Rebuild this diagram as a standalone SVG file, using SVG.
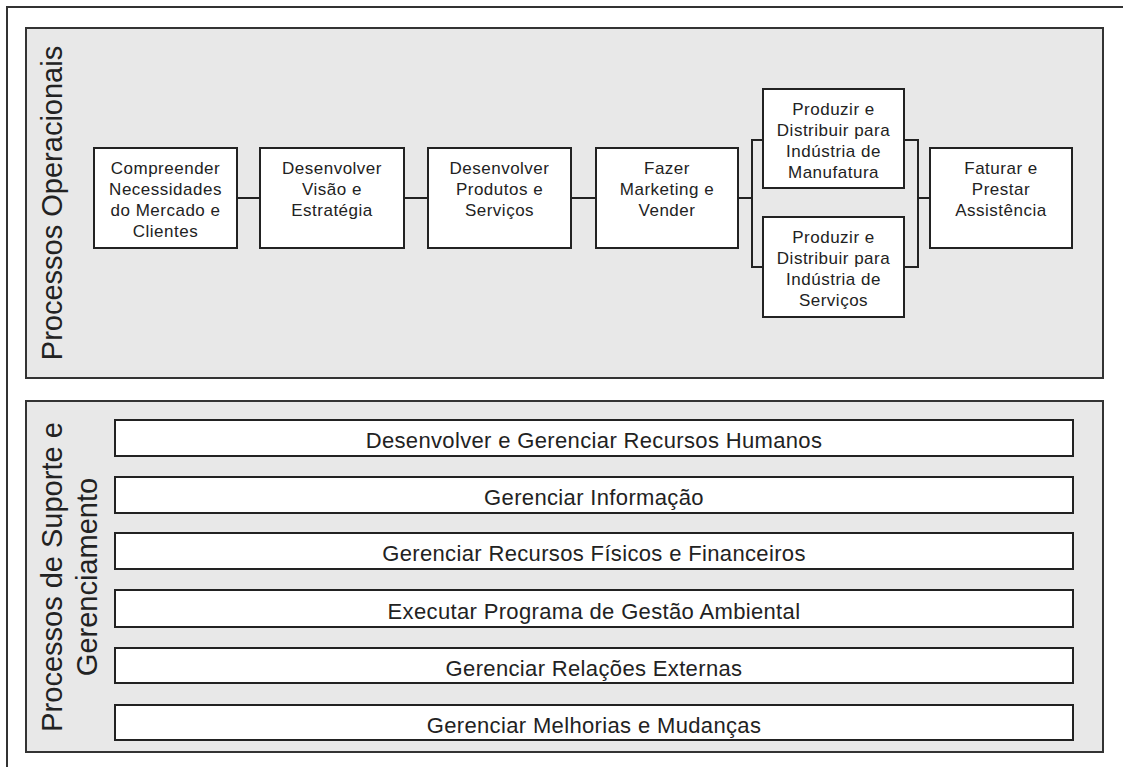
<svg xmlns="http://www.w3.org/2000/svg" width="1123" height="767" viewBox="0 0 1123 767">
<style>
.bg{fill:#ffffff}
.frame{fill:none;stroke:#333;stroke-width:2}
.panel{fill:#e8e8e8;stroke:#333;stroke-width:2}
.box{fill:#ffffff;stroke:#222;stroke-width:2}
.conn{fill:none;stroke:#222;stroke-width:2}
.t{font-family:"Liberation Sans",Arial,sans-serif;fill:#222;text-anchor:middle}
.bt{font-size:17px;letter-spacing:0.5px}
.bar{font-size:22px;letter-spacing:0.35px}
.lab{font-size:29px}
</style>
<rect class="bg" x="0" y="0" width="1123" height="767"/>
<path class="frame" d="M7,767 V7 H1123"/>

<g id="panel-operacionais">
<rect class="panel" x="26" y="28" width="1077" height="350"/>
<text class="t lab" transform="translate(62,203) rotate(-90)">Processos Operacionais</text>
</g>

<g id="panel-suporte">
<rect class="panel" x="26" y="401" width="1077" height="351"/>
<text class="t lab" transform="translate(62,577) rotate(-90)">Processos de Suporte e</text>
<text class="t lab" transform="translate(97,577) rotate(-90)">Gerenciamento</text>
</g>

<g id="connectors">
<path class="conn" d="M237,198 H260"/>
<path class="conn" d="M404,198 H428"/>
<path class="conn" d="M571,198 H596"/>
<path class="conn" d="M738,198 H752"/>
<path class="conn" d="M763,140 H752 V267 H763"/>
<path class="conn" d="M904,140 H918 V267 H904"/>
<path class="conn" d="M918,198 H930"/>
</g>

<g id="n-compreender">
<rect class="box" x="94" y="148" width="143" height="100"/>
<text class="t bt" x="165.5" y="174">Compreender</text>
<text class="t bt" x="165.5" y="195">Necessidades</text>
<text class="t bt" x="165.5" y="216">do Mercado e</text>
<text class="t bt" x="165.5" y="237">Clientes</text>
</g>
<g id="n-visao">
<rect class="box" x="260" y="148" width="144" height="100"/>
<text class="t bt" x="332" y="174">Desenvolver</text>
<text class="t bt" x="332" y="195">Visão e</text>
<text class="t bt" x="332" y="216">Estratégia</text>
</g>
<g id="n-produtos">
<rect class="box" x="428" y="148" width="143" height="100"/>
<text class="t bt" x="499.5" y="174">Desenvolver</text>
<text class="t bt" x="499.5" y="195">Produtos e</text>
<text class="t bt" x="499.5" y="216">Serviços</text>
</g>
<g id="n-marketing">
<rect class="box" x="596" y="148" width="142" height="100"/>
<text class="t bt" x="667" y="174">Fazer</text>
<text class="t bt" x="667" y="195">Marketing e</text>
<text class="t bt" x="667" y="216">Vender</text>
</g>
<g id="n-manufatura">
<rect class="box" x="763" y="89" width="141" height="99"/>
<text class="t bt" x="833.5" y="115">Produzir e</text>
<text class="t bt" x="833.5" y="136">Distribuir para</text>
<text class="t bt" x="833.5" y="157">Indústria de</text>
<text class="t bt" x="833.5" y="178">Manufatura</text>
</g>
<g id="n-servicos">
<rect class="box" x="763" y="217" width="141" height="100"/>
<text class="t bt" x="833.5" y="243">Produzir e</text>
<text class="t bt" x="833.5" y="264">Distribuir para</text>
<text class="t bt" x="833.5" y="285">Indústria de</text>
<text class="t bt" x="833.5" y="306">Serviços</text>
</g>
<g id="n-faturar">
<rect class="box" x="930" y="148" width="142" height="100"/>
<text class="t bt" x="1001" y="174">Faturar e</text>
<text class="t bt" x="1001" y="195">Prestar</text>
<text class="t bt" x="1001" y="216">Assistência</text>
</g>

<g id="s-rh">
<rect class="box" x="115" y="420" width="958" height="36"/>
<text class="t bar" x="594" y="448">Desenvolver e Gerenciar Recursos Humanos</text>
</g>
<g id="s-info">
<rect class="box" x="115" y="477" width="958" height="36"/>
<text class="t bar" x="594" y="505">Gerenciar Informação</text>
</g>
<g id="s-fisicos">
<rect class="box" x="115" y="533" width="958" height="36"/>
<text class="t bar" x="594" y="561">Gerenciar Recursos Físicos e Financeiros</text>
</g>
<g id="s-ambiental">
<rect class="box" x="115" y="590" width="958" height="37"/>
<text class="t bar" x="594" y="619">Executar Programa de Gestão Ambiental</text>
</g>
<g id="s-externas">
<rect class="box" x="115" y="648" width="958" height="35"/>
<text class="t bar" x="594" y="676">Gerenciar Relações Externas</text>
</g>
<g id="s-melhorias">
<rect class="box" x="115" y="705" width="958" height="35"/>
<text class="t bar" x="594" y="733">Gerenciar Melhorias e Mudanças</text>
</g>
</svg>
